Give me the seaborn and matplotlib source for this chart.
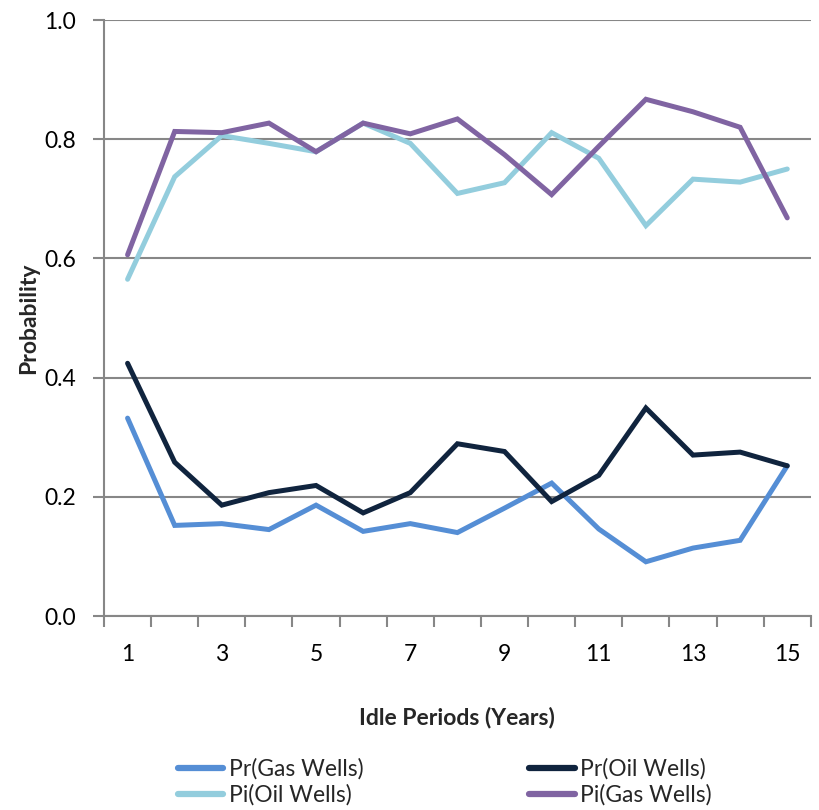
import numpy as np
import pandas as pd
import matplotlib
matplotlib.use("Agg")
import matplotlib.pyplot as plt
from matplotlib.ticker import FixedLocator
import seaborn as sns

# Idle period (years) and probabilities for each well series
years = list(range(1, 16))
pr_gas = [0.332, 0.152, 0.155, 0.145, 0.186, 0.142, 0.155, 0.140, 0.181, 0.223, 0.146, 0.091, 0.114, 0.127, 0.252]
pr_oil = [0.424, 0.258, 0.186, 0.207, 0.219, 0.173, 0.207, 0.289, 0.276, 0.192, 0.236, 0.349, 0.270, 0.275, 0.252]
pi_oil = [0.565, 0.737, 0.806, 0.793, 0.779, 0.827, 0.793, 0.709, 0.727, 0.811, 0.768, 0.655, 0.733, 0.728, 0.750]
pi_gas = [0.606, 0.813, 0.811, 0.827, 0.779, 0.827, 0.809, 0.834, 0.774, 0.707, 0.788, 0.867, 0.846, 0.820, 0.668]
series_names = ["Pr(Gas Wells)", "Pr(Oil Wells)", "Pi(Oil Wells)", "Pi(Gas Wells)"]
x_labels = ["1", "3", "5", "7", "9", "11", "13", "15"]
y_labels = ["0.0", "0.2", "0.4", "0.6", "0.8", "1.0"]

colors = {
    "Pr(Gas Wells)": "#558ED5",
    "Pr(Oil Wells)": "#10243E",
    "Pi(Oil Wells)": "#93CDDD",
    "Pi(Gas Wells)": "#8064A2",
}

frames = []
for name, vals in zip(series_names, [pr_gas, pr_oil, pi_oil, pi_gas]):
    frames.append(pd.DataFrame({"Year": years, "Probability": vals, "Series": name}))
df = pd.concat(frames, ignore_index=True)

sns.set_theme(style="white")
plt.rcParams["font.family"] = ["Lato", "DejaVu Sans"]

fig = plt.figure(figsize=(8.19, 8.10), dpi=100)
ax = fig.add_axes([0.127, 0.2395, 0.863, 0.7358])

sns.lineplot(data=df, x="Year", y="Probability", hue="Series", hue_order=series_names,
             palette=colors, linewidth=3.6, ax=ax, legend=True)
for ln in ax.get_lines():
    ln.set_solid_joinstyle("miter")
    ln.set_solid_capstyle("round")

fs = 16.5
grid_c = "#878787"
ax.set_xlim(0.5, 15.5)
ax.set_ylim(0, 1.0)
ax.set_yticks([float(v) for v in y_labels])
ax.set_yticklabels(y_labels)
ax.set_xticks([int(v) for v in x_labels])
ax.set_xticklabels(x_labels)
ax.xaxis.set_minor_locator(FixedLocator(np.arange(0.5, 16.0, 1.0)))
ax.tick_params(axis="x", which="major", length=0, pad=20, labelsize=fs, colors="black")
ax.tick_params(axis="x", which="minor", length=8, width=1.5, color=grid_c, direction="out", bottom=True)
ax.tick_params(axis="y", which="major", length=8, width=1.5, color=grid_c, direction="out",
               left=True, pad=12, labelsize=fs, labelcolor="black")
ax.yaxis.grid(True, color=grid_c, linewidth=1.5)
ax.set_axisbelow(True)
for s in ["top", "right"]:
    ax.spines[s].set_visible(False)
for s in ["left", "bottom"]:
    ax.spines[s].set_color(grid_c)
    ax.spines[s].set_linewidth(1.5)

ax.set_xlabel("Idle Periods (Years)", fontsize=fs, fontweight="bold", labelpad=30)
ax.set_ylabel("Probability", fontsize=fs, fontweight="bold", labelpad=4)

handles, labels = ax.get_legend_handles_labels()
ax.get_legend().remove()
hmap = dict(zip(labels, handles))
order = ["Pr(Gas Wells)", "Pi(Oil Wells)", "Pr(Oil Wells)", "Pi(Gas Wells)"]
leg_handles = []
for name in order:
    h = hmap[name]
    h.set_linewidth(4.5)
    h.set_solid_capstyle("round")
    leg_handles.append(h)
fig.legend(leg_handles, order, loc="center", bbox_to_anchor=(0.543, 0.0345), ncol=2,
           frameon=False, fontsize=fs, handlelength=2.0, handletextpad=0.25,
           columnspacing=7.2, labelspacing=0.2)

fig.savefig("out.png", dpi=100, facecolor="white")
